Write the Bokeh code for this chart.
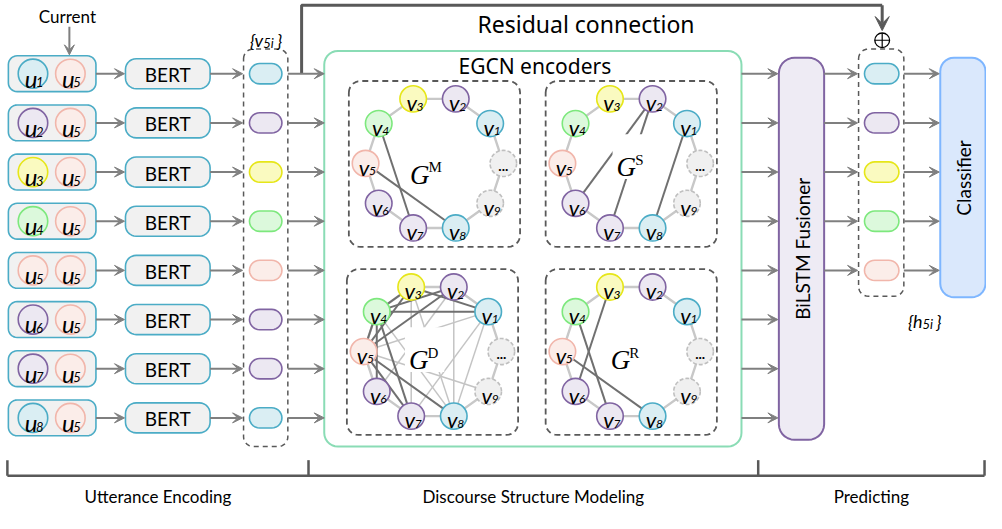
import numpy as np
from bokeh.plotting import figure
from bokeh.models import Range1d, Arrow, VeeHead, ColumnDataSource
from bokeh.core.properties import value
from bokeh.embed import file_html
from bokeh.resources import INLINE

# ---------------- data ----------------
utterance_ids = [1, 2, 3, 4, 5, 6, 7, 8]
current_id = 5
speaker_colors = ["blue", "purple", "yellow", "green", "pink", "purple", "purple", "blue"]
fused_ids = [1, 2, 3, 4, 5]
node_ids = [1, 2, 3, 4, 5, 6, 7, 8, 9]
node_colors = ["blue", "purple", "yellow", "green", "pink", "purple", "purple", "blue", "gray"]
graph_names = ["M", "S", "D", "R"]
edges_M = [(4, 7), (5, 8)]
edges_S = [(2, 6), (2, 7), (1, 8)]
edges_D_strong = [(3, 1), (4, 1), (4, 2), (5, 2), (5, 3), (4, 6), (4, 7), (5, 7), (5, 8), (5, 4), (3, 4)]
edges_D_weak = [(3, 7), (2, 8), (1, 7), (1, 8), (1, 5), (5, 9), (3, 8), (2, 6), (4, 8)]
edges_R = [(3, 6), (4, 7), (5, 8)]
stage_labels = ["Utterance Encoding", "Discourse Structure Modeling", "Predicting"]

# ---------------- styles / layout ----------------
PAL = {"blue": ("#daeef3", "#4bacc6"), "purple": ("#ece8f2", "#8064a2"),
       "yellow": ("#fafac0", "#e6e619"), "green": ("#dcf9dc", "#7de87d"),
       "pink": ("#fbede9", "#f1b6ab"), "gray": ("#f0f0f0", "#bfbfbf")}
FONT = "Lato"
GRAY = "#7f7f7f"
DARK = "#595959"
W, H = 1002, 529

p = figure(width=986, height=513, x_range=Range1d(0, W), y_range=Range1d(H, 0),
           output_backend="svg", toolbar_location=None, min_border=0,
           x_axis_type=None, y_axis_type=None)
p.grid.visible = False
p.outline_line_color = None
p.background_fill_color = "white"


def rr(x0, y0, x1, y1, r, n=8):
    xs, ys = [], []
    for cx, cy, a0 in [(x0 + r, y0 + r, 180), (x1 - r, y0 + r, 270), (x1 - r, y1 - r, 0), (x0 + r, y1 - r, 90)]:
        for t in np.linspace(a0, a0 + 90, n):
            xs.append(cx + r * np.cos(np.radians(t)))
            ys.append(cy + r * np.sin(np.radians(t)))
    return xs, ys


def box(x0, y0, x1, y1, r, fill, line, lw=1.6, dash="solid"):
    xs, ys = rr(x0, y0, x1, y1, r)
    p.patch(xs, ys, fill_color=fill, line_color=line, line_width=lw, line_dash=dash)


def txt(x, y, s, size, font=FONT, style="normal", align="center", baseline="middle", color="#000000", angle=0.0):
    p.text(x=[x], y=[y], text=[s], text_font=value(font), text_font_size=f"{size}px",
           text_font_style=style, text_align=align, text_baseline=baseline, text_color=color, angle=angle)


def sublabel(cx, cy, main, sub, size, subsize, dx_main, dx_sub, base_main, base_sub):
    txt(cx + dx_main, cy + base_main, main, size, style="italic", baseline="alphabetic")
    txt(cx + dx_sub, cy + base_sub, sub, subsize, style="italic", align="left", baseline="alphabetic")


arrows = {"x0": [], "y0": [], "x1": [], "y1": []}


def arrow(x0, y0, x1, y1):
    arrows["x0"].append(x0); arrows["y0"].append(y0)
    arrows["x1"].append(x1); arrows["y1"].append(y1)


row_y = [75.5 + 50.7 * i for i in range(len(utterance_ids))]
fused_y = row_y[:len(fused_ids)]

# ---------------- current label ----------------
txt(68, 16, "Current", 17)
arrow(70, 27, 70, 56)

# ---------------- utterance encoding ----------------
cx_list, cy_list, cf, cl = [], [], [], []
for uid, col, y in zip(utterance_ids, speaker_colors, row_y):
    box(8, y - 18.5, 97, y + 18.5, 9, "#f1f1f1", "#4bacc6")
    for cx, c in [(33, col), (71, speaker_colors[utterance_ids.index(current_id)])]:
        cx_list.append(cx); cy_list.append(y); cf.append(PAL[c][0]); cl.append(PAL[c][1])
    box(127, y - 15.5, 213, y + 15.5, 11, "#f1f1f1", "#4bacc6")
    arrow(97, y, 126, y)
    arrow(213, y, 246, y)
    arrow(292, y, 329, y)
    arrow(753, y, 790, y)
p.ellipse(x=cx_list, y=cy_list, width=30, height=30, fill_color=cf, line_color=cl, line_width=1.6)
for uid, y in zip(utterance_ids, row_y):
    sublabel(33, y, "u", str(uid), 24, 13, -2, 3, 4.5, 9)
    sublabel(71, y, "u", str(current_id), 24, 13, -2, 3, 4.5, 9)
    txt(170, y + 1, "BERT", 19)

# v_5i column
box(247, 50, 292, 460, 10, None, DARK, 1.5, "5 4")
for col, y in zip(speaker_colors, row_y):
    box(253, y - 10.5, 286, y + 10.5, 10.5, PAL[col][0], PAL[col][1])
txt(267, 41, "{v", 18, style="italic", align="right", baseline="alphabetic")
txt(267, 44, "5i", 13, style="italic", align="left", baseline="alphabetic")
txt(281, 41, "}", 18, style="italic", align="left", baseline="alphabetic")

# ---------------- residual connection ----------------
p.line(x=[306, 306, 896], y=[row_y[0], 5, 5], line_color=DARK, line_width=3)
res = Arrow(x_start=896, y_start=5, x_end=896, y_end=31, line_color=DARK, line_width=3,
            end=VeeHead(size=14, fill_color=DARK, line_color=DARK))
p.add_layout(res)
p.ellipse(x=[896], y=[41], width=15, height=15, fill_color="white", line_color="#000000", line_width=1.3)
p.multi_line(xs=[[888.5, 903.5], [896, 896]], ys=[[41, 41], [33.5, 48.5]], line_color="#000000", line_width=1.2)
txt(595, 24, "Residual connection", 23, font="Noto Sans")

# ---------------- EGCN encoders ----------------
box(329, 52, 753, 460, 14, "white", "#8adcb5", 2)
txt(543, 68, "EGCN encoders", 21, font="Noto Sans")

panel_centers = {"M": (441, 168), "S": (641, 168), "D": (439, 362), "R": (641, 362)}
label_offsets = {"M": (-13, 3), "S": (-3, -5), "D": (-12, 0), "R": (-9, 0)}
graph_edges = {"M": (edges_M, []), "S": (edges_S, []), "D": (edges_D_strong, edges_D_weak), "R": (edges_R, [])}
RAD = 70


def npos(cx, cy, k):
    a = np.radians(36 * k)
    return cx + RAD * np.cos(a), cy - RAD * np.sin(a)


for g in graph_names:
    cx, cy = panel_centers[g]
    box(cx - 87, cy - 85, cx + 87, cy + 86, 12, None, DARK, 1.8, "6 4")
    ring = [npos(cx, cy, k) for k in range(11)]
    p.line(x=[q[0] for q in ring], y=[q[1] for q in ring], line_color="#c8c8c8", line_width=2.4)
    strong, weak = graph_edges[g]
    if weak:
        p.multi_line(xs=[[npos(cx, cy, a)[0], npos(cx, cy, b)[0]] for a, b in weak],
                     ys=[[npos(cx, cy, a)[1], npos(cx, cy, b)[1]] for a, b in weak],
                     line_color="#c4c4c4", line_width=1.5)
    p.multi_line(xs=[[npos(cx, cy, a)[0], npos(cx, cy, b)[0]] for a, b in strong],
                 ys=[[npos(cx, cy, a)[1], npos(cx, cy, b)[1]] for a, b in strong],
                 line_color="#707070", line_width=2)
    lx, ly = cx + label_offsets[g][0], cy + label_offsets[g][1]
    p.rect(x=[lx + 4], y=[ly - 2], width=40, height=46, fill_color="white", line_color=None)
    txt(lx - 2, ly + 9, "G", 27, font="Liberation Serif", style="italic", align="center", baseline="alphabetic")
    txt(lx + 7, ly + 1, g, 15, font="Liberation Serif", align="left", baseline="alphabetic")
    xs = [npos(cx, cy, k)[0] for k in node_ids]
    ys = [npos(cx, cy, k)[1] for k in node_ids]
    solid = [i for i, c in enumerate(node_colors) if c != "gray"]
    p.ellipse(x=[xs[i] for i in solid], y=[ys[i] for i in solid], width=27, height=27,
              fill_color=[PAL[node_colors[i]][0] for i in solid],
              line_color=[PAL[node_colors[i]][1] for i in solid], line_width=1.6)
    gx, gy = [xs[8], npos(cx, cy, 0)[0]], [ys[8], npos(cx, cy, 0)[1]]
    p.ellipse(x=gx, y=gy, width=27, height=27, fill_color=PAL["gray"][0], line_color=PAL["gray"][1],
              line_width=1.6, line_dash="4 2")
    for k, x, y in zip(node_ids, xs, ys):
        sublabel(x, y, "v", str(k), 22, 12, -1.5, 3.5, 4, 8)
    txt(gx[1], gy[1] + 3, "...", 14, style="bold", baseline="alphabetic")

# ---------------- predicting ----------------
box(791, 59, 837, 453, 16, "#eeebf4", "#8064a2", 2)
txt(815, 256, "BiLSTM Fusioner", 19, angle=np.pi / 2)
box(872, 50, 918, 305, 10, None, DARK, 1.5, "5 4")
for uid, y in zip(fused_ids, fused_y):
    col = speaker_colors[utterance_ids.index(uid)]
    box(878, y - 10.5, 913, y + 10.5, 10.5, PAL[col][0], PAL[col][1])
    arrow(837, y, 871, y)
    arrow(918, y, 954, y)
box(955, 59, 1001, 306, 14, "#dae8fc", "#7eb6ff", 2)
txt(979, 183, "Classifier", 19, angle=np.pi / 2)
txt(937, 331, "{h", 18, style="italic", align="right", baseline="alphabetic")
txt(937, 334, "5i", 13, style="italic", align="left", baseline="alphabetic")
txt(951, 331, "}", 18, style="italic", align="left", baseline="alphabetic")

# ---------------- arrows ----------------
src = ColumnDataSource(arrows)
p.add_layout(Arrow(x_start="x0", y_start="y0", x_end="x1", y_end="y1", source=src,
                   line_color=GRAY, line_width=2,
                   end=VeeHead(size=10, fill_color=GRAY, line_color=GRAY, line_width=1)))

# ---------------- stage brackets ----------------
bounds = [7, 313, 770, 1000]
p.multi_line(xs=[[bounds[0], bounds[-1]]] + [[b, b] for b in bounds],
             ys=[[490, 490]] + [[474, 490] for _ in bounds], line_color=DARK, line_width=2.5)
for lab, a, b in zip(stage_labels, bounds[:-1], bounds[1:]):
    txt((a + b) / 2, 511, lab, 17)

open("out.html", "w").write(file_html(p, INLINE))
